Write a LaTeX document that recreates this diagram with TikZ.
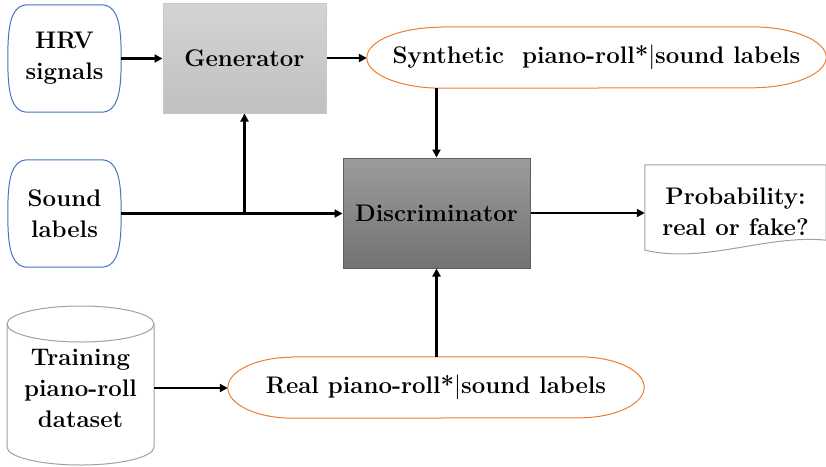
\documentclass[tikz,border=0pt]{standalone}
\usetikzlibrary{arrows.meta}
\definecolor{blueline}{RGB}{68,114,196}
\definecolor{orangeline}{RGB}{237,125,49}
\definecolor{genTop}{RGB}{212,212,212}
\definecolor{genBot}{RGB}{192,192,192}
\definecolor{genBorder}{RGB}{200,200,200}
\definecolor{discTop}{RGB}{156,156,156}
\definecolor{discBot}{RGB}{114,114,114}
\definecolor{discBorder}{RGB}{95,95,95}
\definecolor{docBorder}{RGB}{160,160,160}
\tikzset{
  lbl/.style={inner sep=0pt, align=center, font=\fontsize{24}{31}\selectfont\bfseries},
  procbox/.style={lbl, rectangle},
  arr/.style={line width=2.4pt, -{Triangle[length=8pt,width=8pt]}},
  blueshape/.style={draw=blueline, line width=1pt},
  orangeshape/.style={draw=orangeline, line width=1pt},
  grayshape/.style={draw=docBorder, line width=1pt},
}
\begin{document}
\begin{tikzpicture}[x=1pt,y=1pt]
\useasboundingbox (0,0) rectangle (826,-466);
% HRV signals
\node[lbl, minimum width=113pt, minimum height=107pt] (hrv) at (64.5,-58.5) {HRV\\signals};
\draw[blueshape] ([xshift=20pt]hrv.north west) -- ([xshift=-20pt]hrv.north east)
  .. controls ([xshift=-2pt]hrv.north east) and ([yshift=30pt]hrv.east) .. (hrv.east)
  .. controls ([yshift=-30pt]hrv.east) and ([xshift=-2pt]hrv.south east) .. ([xshift=-20pt]hrv.south east)
  -- ([xshift=20pt]hrv.south west)
  .. controls ([xshift=2pt]hrv.south west) and ([yshift=-30pt]hrv.west) .. (hrv.west)
  .. controls ([yshift=30pt]hrv.west) and ([xshift=2pt]hrv.north west) .. ([xshift=20pt]hrv.north west) -- cycle;
% Sound labels
\node[lbl, minimum width=113pt, minimum height=107pt] (snd) at (64.5,-213.5) {Sound\\labels};
\draw[blueshape] ([xshift=20pt]snd.north west) -- ([xshift=-20pt]snd.north east)
  .. controls ([xshift=-2pt]snd.north east) and ([yshift=30pt]snd.east) .. (snd.east)
  .. controls ([yshift=-30pt]snd.east) and ([xshift=-2pt]snd.south east) .. ([xshift=-20pt]snd.south east)
  -- ([xshift=20pt]snd.south west)
  .. controls ([xshift=2pt]snd.south west) and ([yshift=-30pt]snd.west) .. (snd.west)
  .. controls ([yshift=30pt]snd.west) and ([xshift=2pt]snd.north west) .. ([xshift=20pt]snd.north west) -- cycle;
% Generator
\node[procbox, minimum width=163pt, minimum height=110pt, top color=genTop, bottom color=genBot, draw=genBorder, line width=1pt] (gen) at (244.5,-58) {Generator};
% Discriminator
\node[procbox, minimum width=187pt, minimum height=110pt, top color=discTop, bottom color=discBot, draw=discBorder, line width=1pt] (disc) at (436.5,-213) {Discriminator};
% Synthetic
\node[lbl, minimum width=459pt, minimum height=61pt] (syn) at (596.5,-57.5) {Synthetic\ \ piano-roll*$|$sound labels};
\draw[orangeshape] ([xshift=75pt]syn.north west) -- ([xshift=-75pt]syn.north east)
  arc[start angle=90, end angle=-90, x radius=75pt, y radius=30.5pt]
  -- ([xshift=75pt]syn.south west)
  arc[start angle=270, end angle=90, x radius=75pt, y radius=30.5pt] -- cycle;
% Real
\node[lbl, minimum width=416pt, minimum height=61pt] (real) at (436,-387.5) {Real piano-roll*$|$sound labels};
\draw[orangeshape] ([xshift=65pt]real.north west) -- ([xshift=-65pt]real.north east)
  arc[start angle=90, end angle=-90, x radius=65pt, y radius=30.5pt]
  -- ([xshift=65pt]real.south west)
  arc[start angle=270, end angle=90, x radius=65pt, y radius=30.5pt] -- cycle;
% Probability document
\node[lbl, minimum width=181pt, minimum height=93pt] (prob) at (735.5,-211.5) {Probability:\\real or fake?};
\draw[grayshape] (prob.north west) -- (prob.north east) -- ([yshift=18pt]prob.south east)
  .. controls ([xshift=-60pt,yshift=24pt]prob.south east) and ([xshift=60pt,yshift=-6pt]prob.south west) .. ([yshift=8pt]prob.south west) -- cycle;
% Training cylinder
\node[lbl, minimum width=147pt, minimum height=100pt] (train) at (80.5,-388) {Training\\piano-roll\\dataset};
\draw[grayshape] (7,-324) -- (7,-447) arc[start angle=180, end angle=360, x radius=73.5pt, y radius=18pt] -- (154,-324);
\draw[grayshape] (80.5,-324) ellipse[x radius=73.5pt, y radius=18pt];
% Connectors
\draw[arr] (hrv.east) -- (hrv.east -| gen.west);
\draw[arr] (gen.east) -- (gen.east -| syn.west);
\draw[arr] (disc.north |- syn.south) -- (disc.north);
\draw[arr] (snd.east) -- (snd.east -| disc.west);
\coordinate (branch) at (snd.east -| gen.south);
\draw[arr] (branch) -- (gen.south);
\draw[arr] (disc.east) -- (disc.east -| prob.west);
\draw[arr] (train.east) -- (train.east -| real.west);
\draw[arr] (disc.south |- real.north) -- (disc.south);
\end{tikzpicture}
\end{document}
